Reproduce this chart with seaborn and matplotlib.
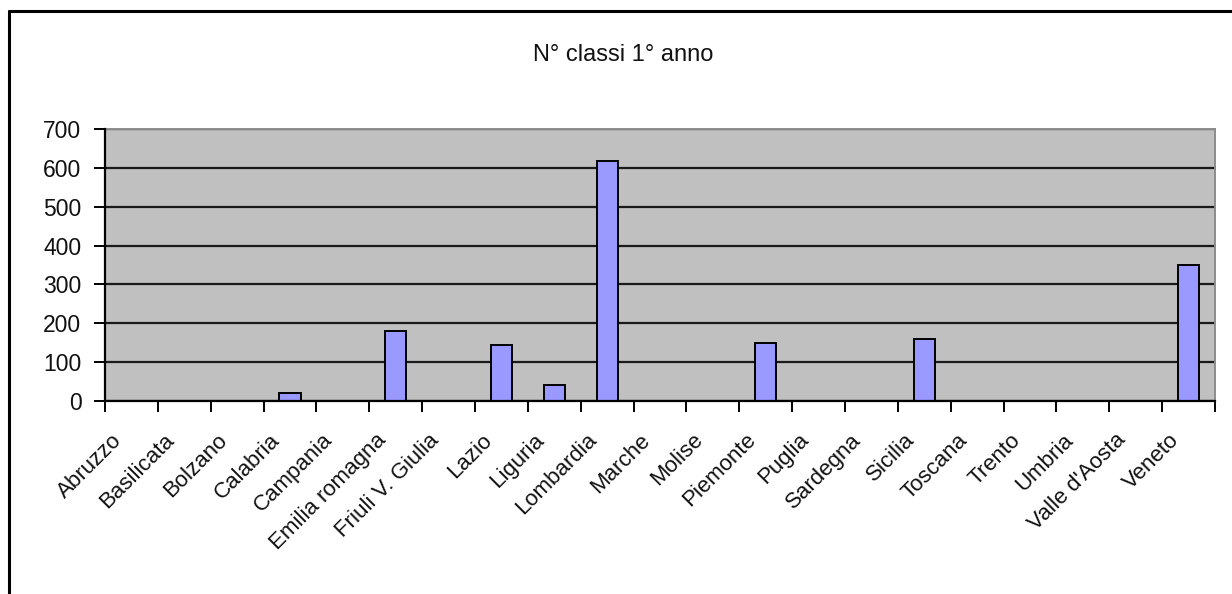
import matplotlib
matplotlib.use("Agg")
import matplotlib.pyplot as plt
import matplotlib.transforms as mtransforms
from matplotlib.lines import Line2D
import pandas as pd
import seaborn as sns

# data
regioni = ["Abruzzo", "Basilicata", "Bolzano", "Calabria", "Campania",
           "Emilia romagna", "Friuli V. Giulia", "Lazio", "Liguria", "Lombardia",
           "Marche", "Molise", "Piemonte", "Puglia", "Sardegna", "Sicilia",
           "Toscana", "Trento", "Umbria", "Valle d'Aosta", "Veneto"]
classi = [0, 0, 0, 20, 0, 180, 0, 143, 40, 618, 0, 0, 150, 0, 0, 159, 0, 0, 0, 0, 350]
y_ticks = [0, 100, 200, 300, 400, 500, 600, 700]
titolo = "N° classi 1° anno"

df = pd.DataFrame({"Regione": regioni, "Classi": classi})

sns.set_style("white")
plt.rcParams["font.family"] = ["Liberation Sans", "DejaVu Sans"]

W, H = 1232, 594
fig = plt.figure(figsize=(W / 100, H / 100), dpi=100)
ax = fig.add_axes([105 / W, 1 - 401 / H, (1215 - 105) / W, (401 - 129) / H])
ax.set_facecolor("#C0C0C0")

sns.barplot(data=df, x="Regione", y="Classi", color="#9999FF", saturation=1,
            width=0.4, edgecolor="black", linewidth=1.4, ax=ax, zorder=3)

ax.set_xlim(-0.5, len(regioni) - 0.5)
ax.set_ylim(0, 700)
ax.set_yticks(y_ticks)
ax.yaxis.grid(True, color="#1a1a1a", linewidth=1.6, zorder=1)
ax.set_axisbelow(True)
ax.set_xlabel("")
ax.set_ylabel("")

for s in ["top", "right"]:
    ax.spines[s].set_color("#8c8c8c")
    ax.spines[s].set_linewidth(1.4)
for s in ["left", "bottom"]:
    ax.spines[s].set_color("black")
    ax.spines[s].set_linewidth(1.6)
    ax.spines[s].set_zorder(4)

ax.tick_params(axis="y", left=True, length=8, width=1.4, color="black",
               pad=9, labelsize=16.5, labelcolor="#111111")
ax.set_xticks(range(len(regioni)))
ax.set_xticks([i - 0.5 for i in range(len(regioni) + 1)], minor=True)
ax.tick_params(axis="x", which="major", bottom=True, length=0, pad=0)
ax.tick_params(axis="x", which="minor", bottom=True, length=8, width=1.4, color="black")
ax.set_xticklabels(regioni, rotation=45, ha="right", va="center",
                   rotation_mode="anchor", fontsize=16, color="#111111")
off = mtransforms.ScaledTranslation(-0.13, -0.36, fig.dpi_scale_trans)
for lab in ax.get_xticklabels():
    lab.set_transform(lab.get_transform() + off)

fig.text(623 / W, 1 - 55 / H, titolo, ha="center", va="center",
         fontsize=17, color="#111111")

# outer chart frame (only left and top visible)
fig.add_artist(Line2D([9 / W, 9 / W], [0, 1 - 11 / H], transform=fig.transFigure,
                      color="black", linewidth=2.2))
fig.add_artist(Line2D([9 / W, 1], [1 - 11 / H, 1 - 11 / H], transform=fig.transFigure,
                      color="black", linewidth=2.2))

fig.savefig("out.png", dpi=100)
